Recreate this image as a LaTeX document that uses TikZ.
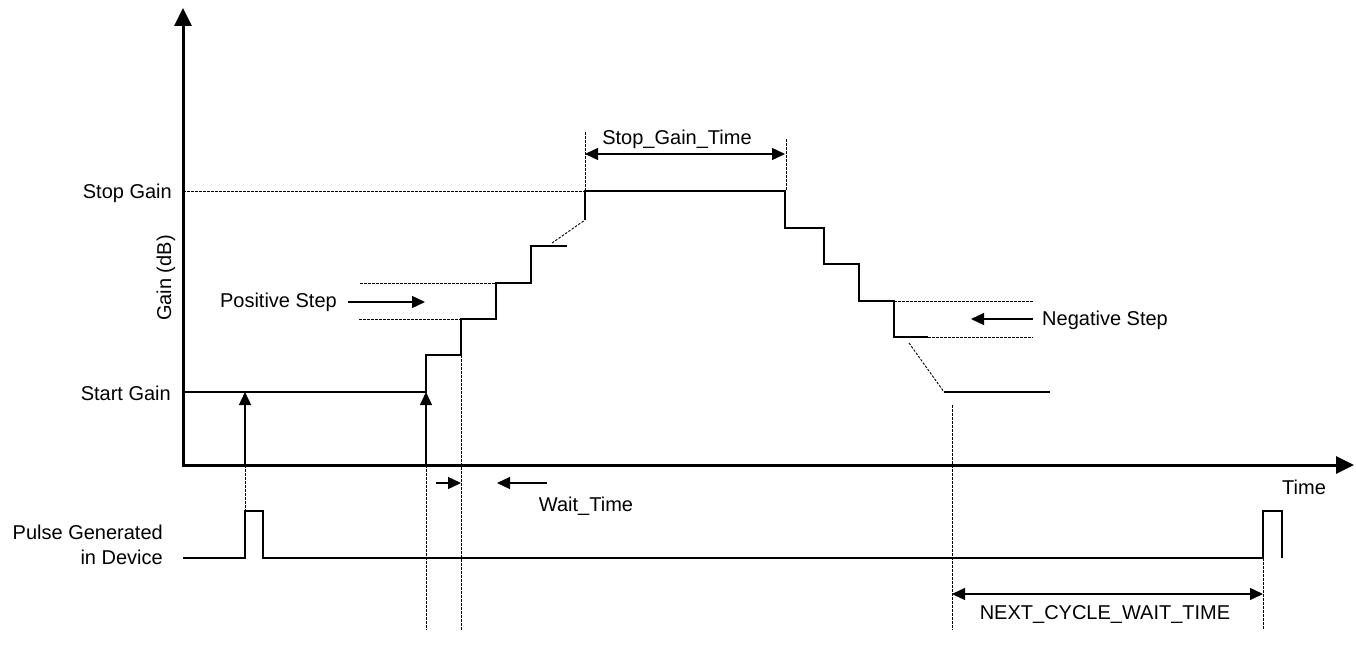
\documentclass[tikz,border=0pt]{standalone}
\usepackage{fontspec}
\setmainfont{Liberation Sans}
\usetikzlibrary{arrows.meta}
\begin{document}
\begin{tikzpicture}[x=1pt,y=-1pt,
  lbl/.style={font=\fontsize{20}{24.5}\selectfont, inner sep=0pt},
  sig/.style={line width=1.3pt},
  dots/.style={line width=0.9pt, dash pattern=on 2.5pt off 1.5pt},
  axisline/.style={line width=3pt, line join=miter, {Triangle[length=18pt,width=17pt]}-{Triangle[length=18pt,width=17pt]}},
  arr/.style={line width=1.3pt, -{Triangle[length=13pt,width=12pt]}},
  darr/.style={line width=1.3pt, {Triangle[length=13pt,width=12pt]}-{Triangle[length=13pt,width=12pt]}}]
\useasboundingbox (0,0) rectangle (1356,658);

% key coordinates
\coordinate (O) at (183,465);
\coordinate (Ytip) at (183,8);
\coordinate (Xtip) at (1354,465);

% labels
\node[lbl, anchor=base east] (stopg) at (172,198) {Stop Gain};
\node[lbl, anchor=base east] (startg) at (171,400) {Start Gain};
\node[lbl, rotate=90, anchor=base] (gdb) at (171,278) {Gain (dB)};
\node[lbl, anchor=east, align=right] (pulse) at (163,545) {Pulse Generated\\in Device};
\node[lbl, anchor=base east] (pos) at (337,307) {Positive Step};
\node[lbl, anchor=base west] (neg) at (1042,325) {Negative Step};
\node[lbl, anchor=base] (sgt) at (677,144) {Stop\_Gain\_Time};
\node[lbl, anchor=base] (wt) at (586,511) {Wait\_Time};
\node[lbl, anchor=base] (time) at (1304,494) {Time};
\node[lbl, anchor=base] (ncwt) at (1105,619) {NEXT\_CYCLE\_WAIT\_TIME};

% dotted guide lines
\draw[dots] (183,191) -- (585,191);
\draw[dots] (585,132) -- (585,191);
\draw[dots] (786,139) -- (786,191);
\draw[dots] (552,243) -- (585,220);
\draw[dots] (360,283) -- (496,283);
\draw[dots] (359,319) -- (461,319);
\draw[dots] (894,301) -- (1033,301);
\draw[dots] (928,337) -- (1033,337);
\draw[dots] (909,343) -- (944,392);
\draw[dots] (952,405) -- (952,630);
\draw[dots] (1263,558) -- (1263,630);
\draw[dots] (426,465) -- (426,630);
\draw[dots] (461,355) -- (461,630);
\draw[dots] (245,465) -- (245,511);

% gain signal
\draw[sig] (183,392) -- (426,392) -- (426,355) -- (461,355) -- (461,319)
  -- (496,319) -- (496,283) -- (531,283) -- (531,246) -- (567,246);
\draw[sig] (585,220) -- (585,191) -- (785,191) -- (785,228) -- (824,228)
  -- (824,264) -- (859,264) -- (859,301) -- (894,301) -- (894,337) -- (928,337);
\draw[sig] (944,392) -- (1050,392);

% pulse signal
\draw[sig] (183,558) -- (245,558) -- (245,511) -- (263,511) -- (263,558)
  -- (1263,558) -- (1263,511) -- (1282,511) -- (1282,558);

% arrows
\coordinate (a1s) at (245,465); \coordinate (a1e) at (245,392);
\coordinate (a2s) at (426,465); \coordinate (a2e) at (426,392);
\draw[arr] (a1s) -- (a1e);
\draw[arr] (a2s) -- (a2e);
\coordinate (ps) at (348,302); \coordinate (pe) at (425,302);
\draw[arr] (ps) -- (pe);
\coordinate (ns) at (1033,319); \coordinate (ne) at (971,319);
\draw[arr] (ns) -- (ne);
\coordinate (w1s) at (436,483); \coordinate (w1e) at (461,483);
\coordinate (w2s) at (547,483); \coordinate (w2e) at (497,483);
\draw[arr] (w1s) -- (w1e);
\draw[arr] (w2s) -- (w2e);
\coordinate (sgl) at (585,154); \coordinate (sgr) at (785,154);
\draw[darr] (sgl) -- (sgr);
\coordinate (ncl) at (952,594); \coordinate (ncr) at (1263,594);
\draw[darr] (ncl) -- (ncr);

% axes
\draw[axisline] (Ytip) -- (O) -- (Xtip);
\end{tikzpicture}
\end{document}
